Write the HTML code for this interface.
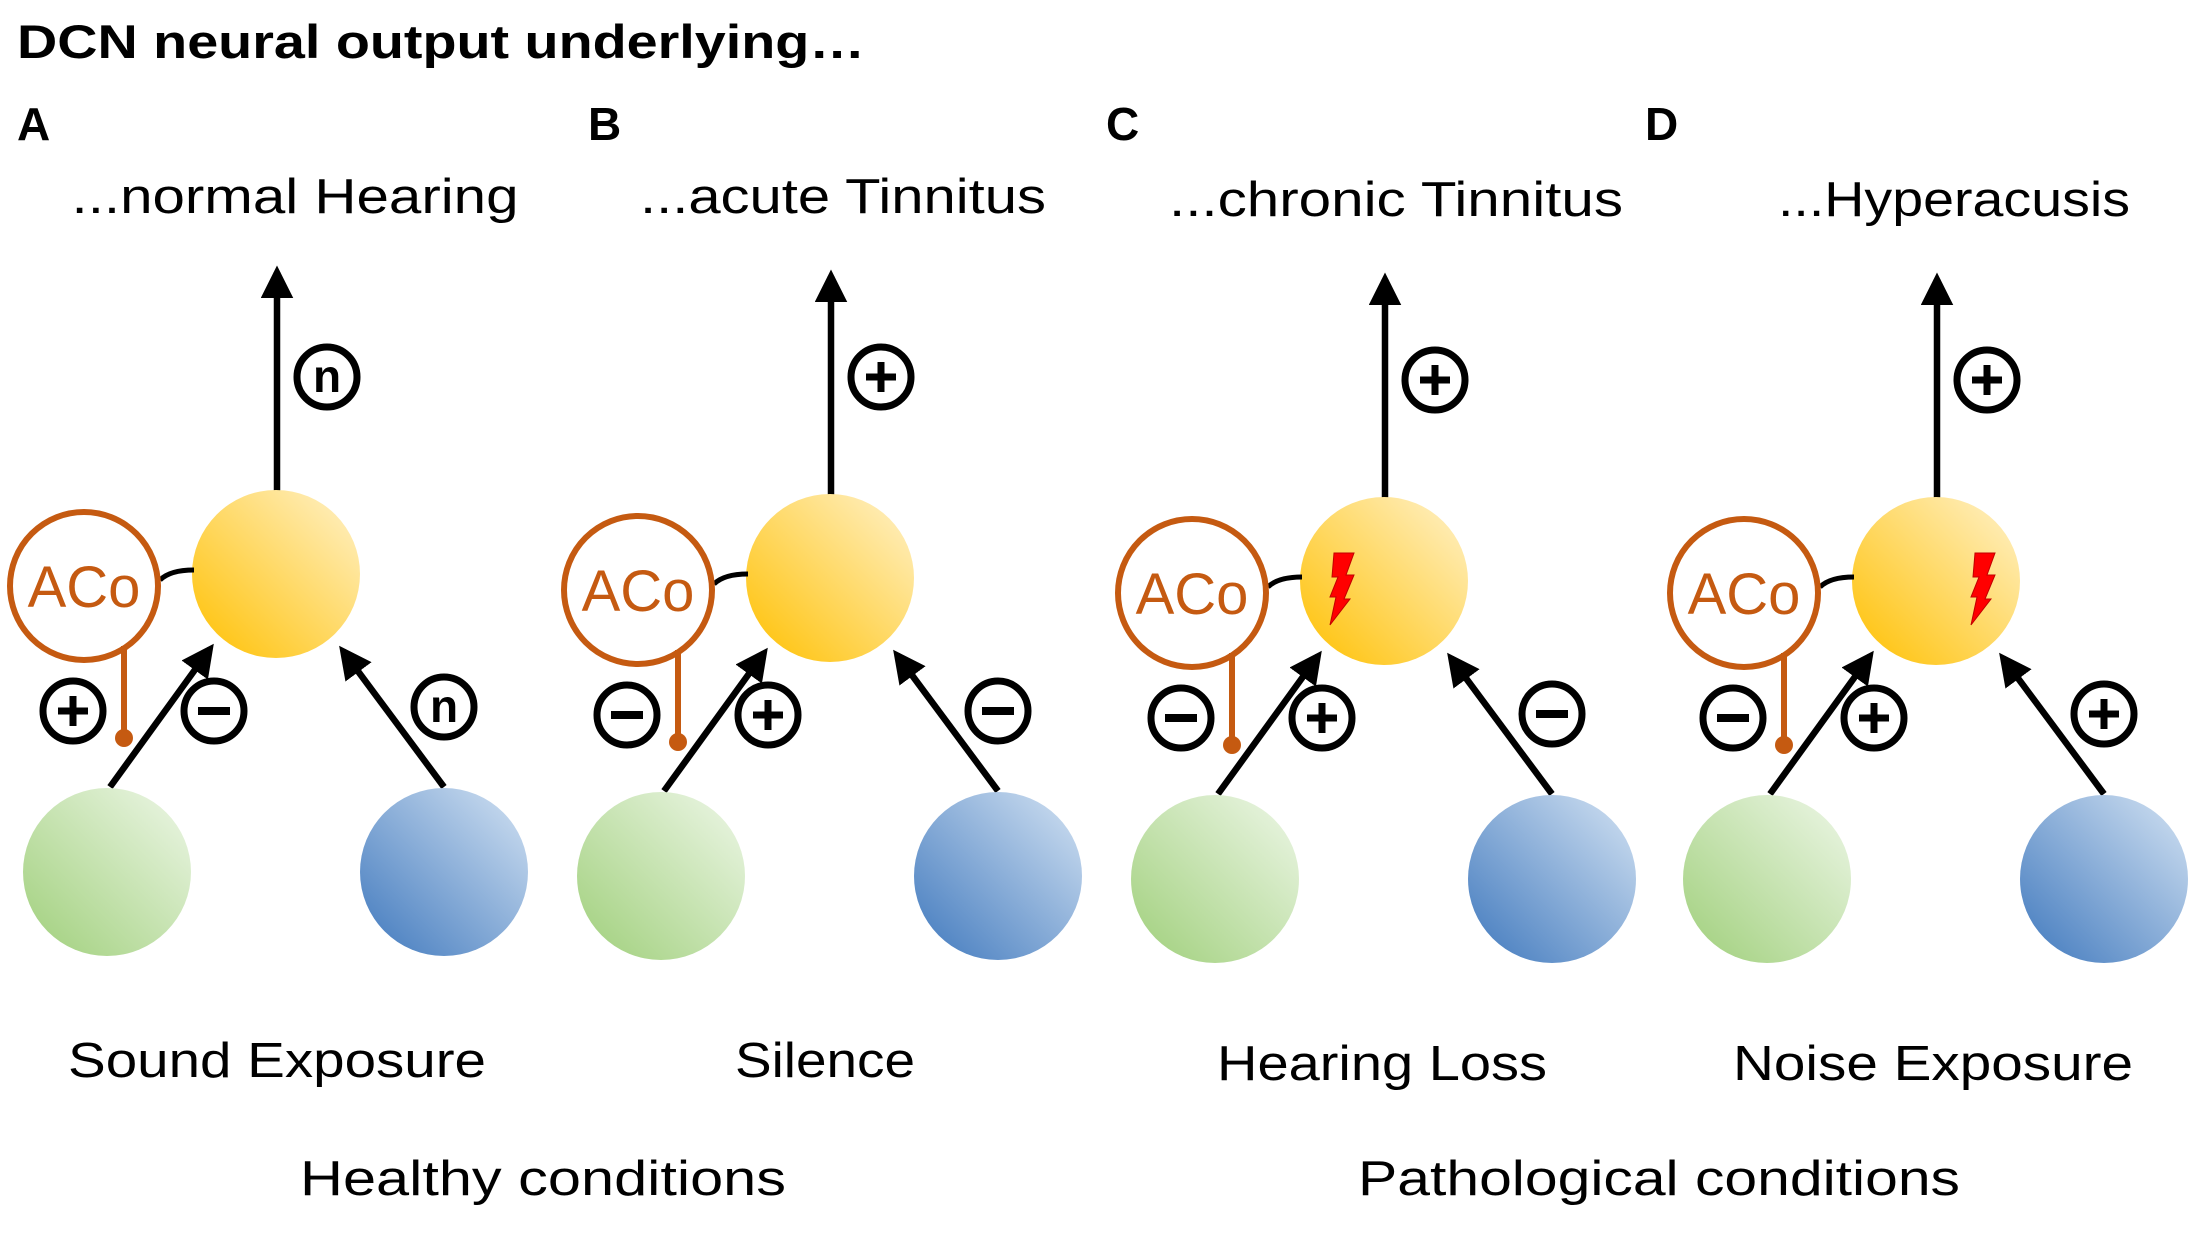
<!DOCTYPE html>
<html><head><meta charset="utf-8"><style>
html,body{margin:0;padding:0;background:#fff;}
svg{display:block;}
text{font-family:"Liberation Sans",sans-serif;}
</style></head><body>
<svg width="2204" height="1233" viewBox="0 0 2204 1233" xmlns="http://www.w3.org/2000/svg">
<defs>
<linearGradient id="gy" x1="0" y1="1" x2="1" y2="0"><stop offset="0" stop-color="#ffc000"/><stop offset="1" stop-color="#fff2cc"/></linearGradient>
<linearGradient id="gg" x1="0" y1="1" x2="1" y2="0"><stop offset="0" stop-color="#9fcf7a"/><stop offset="1" stop-color="#eef7e8"/></linearGradient>
<linearGradient id="gb" x1="0" y1="1" x2="1" y2="0"><stop offset="0" stop-color="#3f78bd"/><stop offset="1" stop-color="#d4e3f3"/></linearGradient>
<marker id="ah" markerWidth="5" markerHeight="5" refX="4" refY="2.5" orient="auto" markerUnits="strokeWidth"><path d="M0,0 L5,2.5 L0,5 Z" fill="#000"/></marker>
<g id="plus"><circle r="30" fill="#fff" stroke="#000" stroke-width="7"/><path d="M-15,0 H15 M0,-15 V15" stroke="#000" stroke-width="7"/></g>
<g id="minus"><circle r="30" fill="#fff" stroke="#000" stroke-width="7"/><path d="M-16,0 H16" stroke="#000" stroke-width="8"/></g>
<g id="nn"><circle r="30" fill="#fff" stroke="#000" stroke-width="7"/><text x="0" y="15" text-anchor="middle" font-size="46" font-weight="bold">n</text></g>
<g id="base">
<line x1="277" y1="492" x2="277" y2="272" stroke="#000" stroke-width="6.5" marker-end="url(#ah)"/>
<circle cx="276" cy="574" r="84" fill="url(#gy)"/>
<path d="M160,580 Q170,570 194,570" fill="none" stroke="#000" stroke-width="5"/>
<circle cx="84" cy="586" r="74" fill="#fff" stroke="#c55a11" stroke-width="6"/>
<text x="84" y="607" text-anchor="middle" font-size="58" fill="#c55a11">ACo</text>
<line x1="124" y1="646" x2="124" y2="735" stroke="#c55a11" stroke-width="6"/>
<circle cx="124" cy="738" r="9" fill="#c55a11"/>
<line x1="110" y1="787" x2="210" y2="649" stroke="#000" stroke-width="6.5" marker-end="url(#ah)"/>
<line x1="444" y1="787" x2="343" y2="651" stroke="#000" stroke-width="6.5" marker-end="url(#ah)"/>
<circle cx="107" cy="872" r="84" fill="url(#gg)"/>
<circle cx="444" cy="872" r="84" fill="url(#gb)"/>
</g>
<path id="bolt" d="M4,0 L24,0 L16,22 L24,22 L14,46 L20,46 L0,72 L6,44 L0,44 L8,24 L2,24 Z" fill="#ff0000" stroke="#c00000" stroke-width="1"/>
</defs>

<text x="17" y="58" font-size="47" font-weight="bold" textLength="848" lengthAdjust="spacingAndGlyphs">DCN neural output underlying…</text>

<!-- A -->
<g>
<use href="#base"/>
<use href="#nn" x="327" y="377"/>
<use href="#plus" x="73" y="711"/>
<use href="#minus" x="214" y="711"/>
<use href="#nn" x="444" y="707"/>
<text x="17" y="140" font-size="46" font-weight="bold">A</text>
<text x="295" y="213" font-size="49" text-anchor="middle" textLength="447" lengthAdjust="spacingAndGlyphs">...normal Hearing</text>
<text x="277" y="1077" font-size="49" text-anchor="middle" textLength="418" lengthAdjust="spacingAndGlyphs">Sound Exposure</text>
</g>

<!-- B -->
<g transform="translate(554,4)">
<use href="#base"/>
<use href="#plus" x="327" y="373"/>
<use href="#minus" x="73" y="711"/>
<use href="#plus" x="214" y="711"/>
<use href="#minus" x="444" y="707"/>
<text x="34" y="136" font-size="46" font-weight="bold">B</text>
</g>
<text x="843" y="213" font-size="49" text-anchor="middle" textLength="406" lengthAdjust="spacingAndGlyphs">...acute Tinnitus</text>
<text x="825" y="1077" font-size="49" text-anchor="middle" textLength="180" lengthAdjust="spacingAndGlyphs">Silence</text>

<!-- C -->
<g transform="translate(1108,7)">
<use href="#base"/>
<use href="#plus" x="327" y="373"/>
<use href="#minus" x="73" y="711"/>
<use href="#plus" x="214" y="711"/>
<use href="#minus" x="444" y="707"/>
<use href="#bolt" x="222" y="546"/>
<text x="-2" y="133" font-size="46" font-weight="bold">C</text>
</g>
<text x="1396" y="216" font-size="49" text-anchor="middle" textLength="454" lengthAdjust="spacingAndGlyphs">...chronic Tinnitus</text>
<text x="1382" y="1080" font-size="49" text-anchor="middle" textLength="330" lengthAdjust="spacingAndGlyphs">Hearing Loss</text>

<!-- D -->
<g transform="translate(1660,7)">
<use href="#base"/>
<use href="#plus" x="327" y="373"/>
<use href="#minus" x="73" y="711"/>
<use href="#plus" x="214" y="711"/>
<use href="#plus" x="444" y="707"/>
<use href="#bolt" x="311" y="546"/>
<text x="-15" y="133" font-size="46" font-weight="bold">D</text>
</g>
<text x="1954" y="216" font-size="49" text-anchor="middle" textLength="352" lengthAdjust="spacingAndGlyphs">...Hyperacusis</text>
<text x="1933" y="1080" font-size="49" text-anchor="middle" textLength="400" lengthAdjust="spacingAndGlyphs">Noise Exposure</text>

<text x="543" y="1195" font-size="49" text-anchor="middle" textLength="486" lengthAdjust="spacingAndGlyphs">Healthy conditions</text>
<text x="1659" y="1195" font-size="49" text-anchor="middle" textLength="602" lengthAdjust="spacingAndGlyphs">Pathological conditions</text>
</svg>
</body></html>
